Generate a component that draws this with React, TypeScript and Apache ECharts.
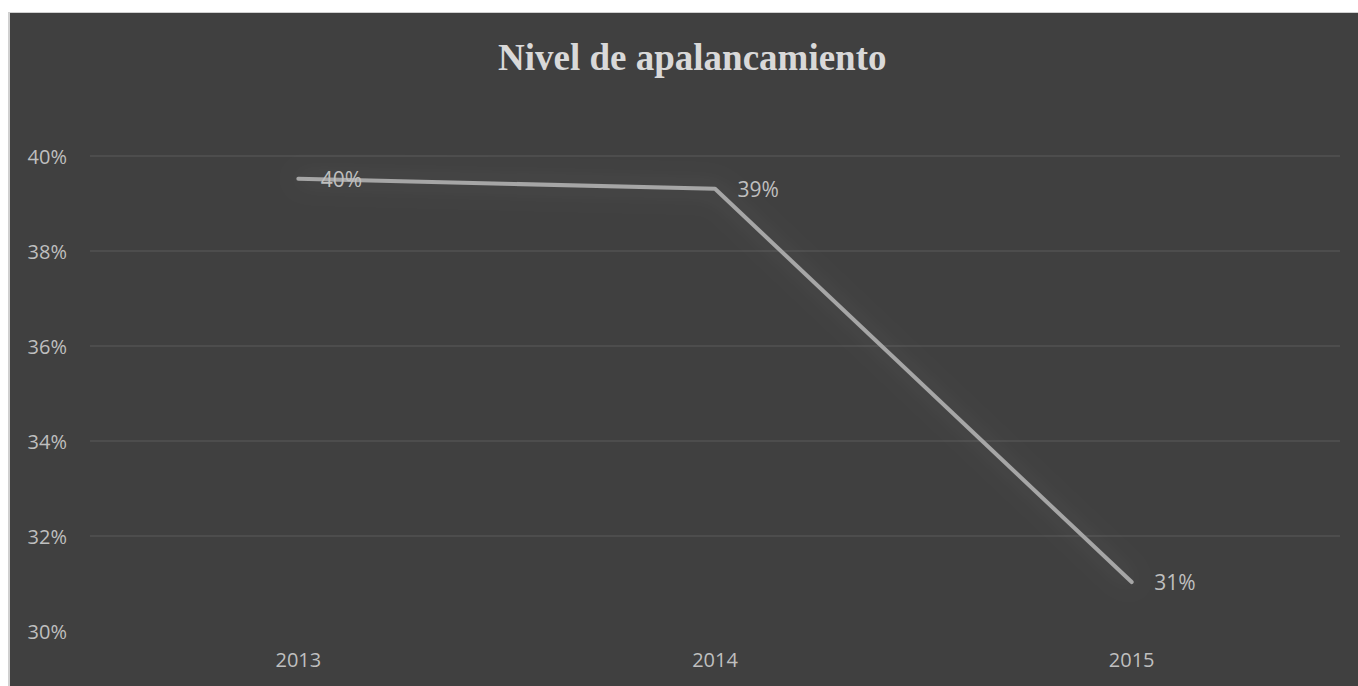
import React, { useEffect, useRef } from "react";
import * as echarts from "echarts";

const titleText = "Nivel de apalancamiento";
const categories = ["2013", "2014", "2015"];
const values = [39.52, 39.31, 31.03];
const yMin = 30;
const yMax = 40;
const yStep = 2;

export default function App() {
  const ref = useRef<HTMLDivElement>(null);
  useEffect(() => {
    document.documentElement.style.overflow = "hidden";
    document.body.style.overflow = "hidden";
    const chart = echarts.init(ref.current!, null, { renderer: "svg" });
    chart.setOption({
      animation: false,
      backgroundColor: "#404040",
      title: {
        text: titleText,
        left: 483,
        top: 21,
        textStyle: {
          fontFamily: "'Liberation Serif', 'Times New Roman', serif",
          fontWeight: "bold",
          fontSize: 37,
          color: "#d9d9d9",
        },
      },
      grid: { left: 80, top: 143, width: 1250, height: 475 },
      xAxis: {
        type: "category",
        data: categories,
        boundaryGap: true,
        axisLine: { show: false },
        axisTick: { show: false },
        axisLabel: {
          color: "#bfbfbf",
          fontFamily: "'Open Sans', sans-serif",
          fontSize: 20,
          margin: 18,
        },
      },
      yAxis: {
        type: "value",
        min: yMin,
        max: yMax,
        interval: yStep,
        axisLine: { show: false },
        axisTick: { show: false },
        splitLine: { showMinLine: false, lineStyle: { color: "#525252", width: 1.5 } },
        axisLabel: {
          color: "#bfbfbf",
          fontFamily: "'Open Sans', sans-serif",
          fontSize: 20,
          margin: 23,
          formatter: (v: number) => `${v}%`,
        },
      },
      series: [
        {
          type: "line",
          data: values,
          showSymbol: true,
          symbol: "circle",
          symbolSize: 1,
          itemStyle: { color: "rgba(0,0,0,0)" },
          lineStyle: {
            color: "#a6a6a6",
            width: 4,
            cap: "round",
            join: "round",
            shadowColor: "rgba(255,255,255,0.18)",
            shadowBlur: 24,
          },
          label: {
            show: true,
            position: "right",
            distance: 22,
            color: "#bfbfbf",
            fontFamily: "'Open Sans', sans-serif",
            fontSize: 21,
            formatter: (p: any) => `${Math.round(p.value)}%`,
          },
        },
      ],
    });
    return () => chart.dispose();
  }, []);
  return (
    <div
      style={{
        position: "fixed",
        left: 8,
        top: 12,
        width: 1350,
        height: 674,
        boxSizing: "border-box",
        borderTop: "1.5px solid #d0d0d0",
        borderLeft: "2px solid #d0d0d0",
        background: "#404040",
      }}
    >
      <div ref={ref} style={{ width: "100%", height: "100%" }} />
    </div>
  );
}
